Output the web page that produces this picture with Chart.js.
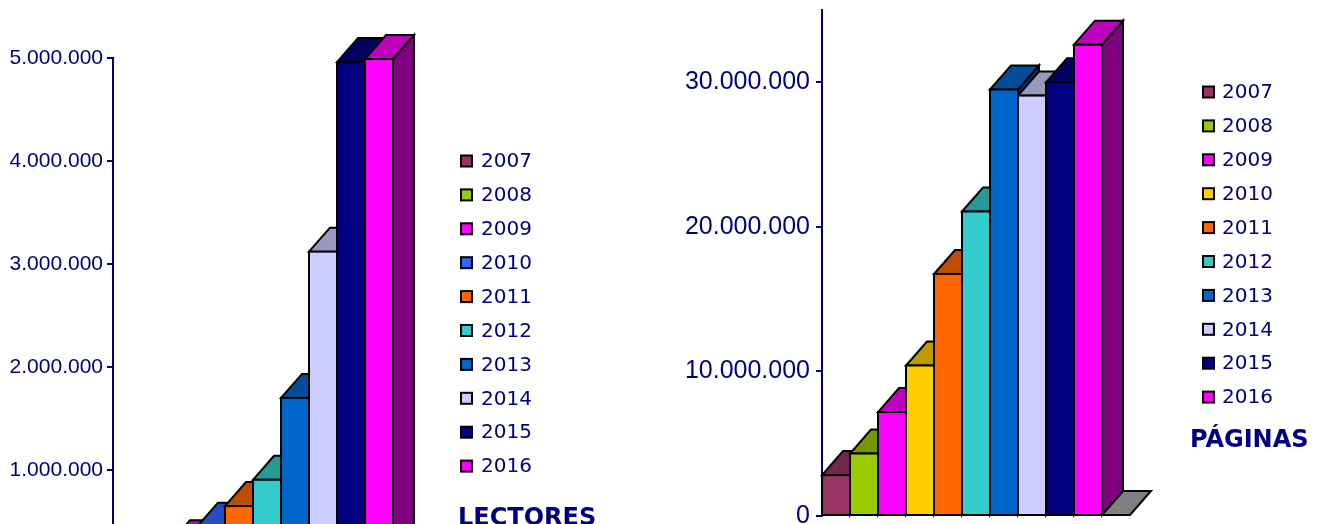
<!DOCTYPE html>
<html><head><meta charset="utf-8">
<script src="https://cdn.jsdelivr.net/npm/chart.js@4/dist/chart.umd.min.js"></script>
<style>
html,body{margin:0;padding:0;width:1331px;height:524px;overflow:hidden;background:#fff;}
#c1{position:absolute;left:0;top:0;}
#c2{position:absolute;left:620px;top:0;}
</style></head><body>
<canvas id="c1" width="620" height="600"></canvas>
<canvas id="c2" width="711" height="560"></canvas>
<script>
// ---- data ----
const years = ['2007','2008','2009','2010','2011','2012','2013','2014','2015','2016'];
const lectores = [120000, 200000, 280000, 450000, 650000, 905000, 1700000, 3120000, 4960000, 4990000];
const paginas = [2830000, 4320000, 7190000, 10410000, 16740000, 21060000, 29500000, 29080000, 30000000, 32600000];
const coloresLectores = ['#993366','#99cc00','#ff00ff','#3366ff','#ff6600','#33cccc','#0066cc','#ccccff','#000080','#ff00ff'];
const coloresPaginas  = ['#993366','#99cc00','#ff00ff','#ffcc00','#ff6600','#33cccc','#0066cc','#ccccff','#000080','#ff00ff'];
const ticksLectores = [0, 1000000, 2000000, 3000000, 4000000, 5000000];
const ticksPaginas = [0, 10000000, 20000000, 30000000];
const tituloLectores = 'LECTORES';
const tituloPaginas = 'PÁGINAS';

const NAVY = '#000080';
function fmt(v){ return String(v).replace(/\B(?=(\d{3})+(?!\d))/g, '.'); }
function shade(hex, f){
  const n = parseInt(hex.slice(1),16);
  const r = Math.round(((n>>16)&255)*f), g = Math.round(((n>>8)&255)*f), b = Math.round((n&255)*f);
  return 'rgb('+r+','+g+','+b+')';
}
function poly(ctx, pts, fill){
  ctx.beginPath(); ctx.moveTo(pts[0][0], pts[0][1]);
  for (let i=1;i<pts.length;i++) ctx.lineTo(pts[i][0], pts[i][1]);
  ctx.closePath(); ctx.fillStyle = fill; ctx.fill(); ctx.stroke();
}

const bar3d = {
  id: 'bar3d',
  beforeDatasetsDraw(chart, args, o){
    const ctx = chart.ctx, bars = chart.getDatasetMeta(0).data;
    const cols = chart.data.datasets[0].backgroundColor;
    const dx = o.dx, dy = o.dy;
    ctx.save(); ctx.lineWidth = 2; ctx.strokeStyle = '#000'; ctx.lineJoin = 'miter';
    const first = bars[0], last = bars[bars.length-1];
    const fl = first.x - first.width/2, fr = last.x + last.width/2 + last.width, base = last.base;
    poly(ctx, [[fl,base],[fr,base],[fr+dx,base-dy],[fl+dx,base-dy]], '#808080');
    bars.forEach((b,i)=>{
      const l = b.x - b.width/2, r = b.x + b.width/2, t = b.y, bs = b.base;
      poly(ctx, [[r,t],[r+dx,t-dy],[r+dx,bs-dy],[r,bs]], shade(cols[i],0.5));
      poly(ctx, [[l,t],[l+dx,t-dy],[r+dx,t-dy],[r,t]], shade(cols[i],0.75));
    });
    ctx.restore();
  },
  afterDatasetsDraw(chart){
    const ctx = chart.ctx, bars = chart.getDatasetMeta(0).data;
    ctx.save(); ctx.lineWidth = 2; ctx.strokeStyle = '#000';
    bars.forEach(b=>{
      ctx.strokeRect(b.x - b.width/2, b.y, b.width, b.base - b.y);
    });
    ctx.restore();
  }
};

const legendCustom = {
  id: 'legendCustom',
  afterDraw(chart, args, o){
    const ctx = chart.ctx, cols = chart.data.datasets[0].backgroundColor;
    ctx.save();
    ctx.font = '20px "DejaVu Sans"'; ctx.textBaseline = 'middle'; ctx.textAlign = 'left';
    chart.data.labels.forEach((lab,i)=>{
      const y = o.y0 + i*o.step;
      ctx.fillStyle = cols[i]; ctx.fillRect(o.x+1, y-5.5, 11, 11);
      ctx.lineWidth = 2; ctx.strokeStyle = '#000'; ctx.strokeRect(o.x+1, y-5.5, 11, 11);
      ctx.fillStyle = NAVY; ctx.fillText(lab, o.tx, y+1);
    });
    ctx.font = 'bold 24px "DejaVu Sans"'; ctx.textBaseline = 'alphabetic';
    ctx.fillStyle = NAVY; ctx.fillText(o.title, o.titleX, o.titleY);
    ctx.restore();
  }
};

function makeChart(id, values, colors, tickVals, yMax, axisW, fontSize, pad, layoutPad, leg){
  return new Chart(document.getElementById(id), {
    type: 'bar',
    data: { labels: years, datasets: [{ data: values, backgroundColor: colors, borderWidth: 0,
      barPercentage: 1, categoryPercentage: 1 }] },
    options: {
      responsive: false, animation: false,
      layout: { padding: layoutPad },
      plugins: { legend: { display: false }, tooltip: { enabled: false },
        bar3d: { dx: 21, dy: 24 }, legendCustom: leg },
      scales: {
        x: { display: false },
        y: {
          min: 0, max: yMax,
          border: { display: true, color: NAVY, width: 2 },
          grid: { display: true, drawOnChartArea: false, drawTicks: true, tickLength: 6, color: NAVY, lineWidth: 2 },
          ticks: { color: NAVY, padding: pad, font: { family: '"Liberation Sans", Arial, sans-serif', size: fontSize },
            callback: v => fmt(v) },
          afterBuildTicks(s){ s.ticks = tickVals.map(v => ({ value: v })); },
          afterFit(s){ s.width = axisW; s.paddingTop = 0; s.paddingBottom = 0; }
        }
      }
    },
    plugins: [bar3d, legendCustom]
  });
}

makeChart('c1', lectores, coloresLectores, ticksLectores, 5000000, 113, 21, 4,
  { top: 58, right: 620-393, bottom: 600-573, left: 0 },
  { x: 460, tx: 481, y0: 161, step: 33.9, title: tituloLectores, titleX: 458, titleY: 525 });

makeChart('c2', paginas, coloresPaginas, ticksPaginas, 35000000, 202, 25, 6,
  { top: 10, right: 711-482, bottom: 560-516, left: 0 },
  { x: 582, tx: 602, y0: 92, step: 33.9, title: tituloPaginas, titleX: 570, titleY: 447 });
</script>
</body></html>
